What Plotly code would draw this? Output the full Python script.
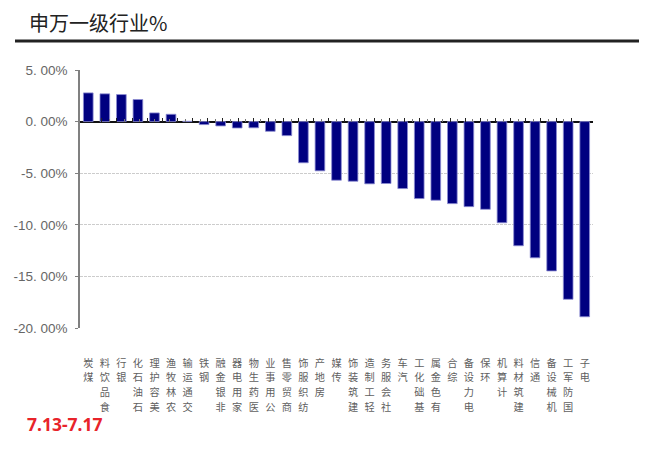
import plotly.graph_objects as go

# 申万一级行业 weekly returns (%), 7.13-7.17
industries = ["煤炭", "食品饮料", "银行", "石油石化", "美容护理", "农林牧渔", "交通运输",
              "钢铁", "非银金融", "家用电器", "医药生物", "公用事业", "商贸零售", "纺织服饰",
              "房地产", "传媒", "建筑装饰", "轻工制造", "社会服务", "汽车", "基础化工",
              "有色金属", "综合", "电力设备", "环保", "计算机", "建筑材料", "通信",
              "机械设备", "国防军工", "电子"]
returns = [2.78, 2.69, 2.62, 2.14, 0.84, 0.71, 0.03,
           -0.29, -0.42, -0.62, -0.60, -0.94, -1.36, -3.99,
           -4.77, -5.68, -5.78, -6.03, -6.00, -6.49, -7.46,
           -7.62, -7.95, -8.24, -8.50, -9.80, -12.03, -13.20,
           -14.47, -17.22, -18.91]
y_ticks = [5, 0, -5, -10, -15, -20]
y_tick_text = ["5. 00%", "0. 00%", "-5. 00%", "-10. 00%", "-15. 00%", "-20. 00%"]

W, H = 648, 449
L, R, T, B = 80, 55, 70, 121

def px_x(x):
    return (x - L) / (W - L - R)

def px_y(y):
    return (H - B - y) / (H - T - B)

# vertical stacked labels, first character at the bottom
stacked = ["<br>".join('<span style="font-size:10.2px">%s</span>' % c for c in reversed(name))
           for name in industries]

fig = go.Figure()
fig.add_trace(go.Bar(
    x=industries, y=returns,
    marker=dict(color="#000080", line=dict(color="rgba(140,140,210,0.8)", width=1)),
    hoverinfo="x+y", showlegend=False,
))
# invisible helpers that carry the tick marks on the zero line
for ax in ["x2", "x3"]:
    fig.add_trace(go.Scatter(
        x=industries, y=returns, xaxis=ax, mode="markers",
        marker=dict(opacity=0), hoverinfo="skip", showlegend=False,
    ))

zero_pos = (0 - y_ticks[-1]) / (y_ticks[0] - y_ticks[-1])

fig.update_layout(
    width=W, height=H,
    margin=dict(l=L, r=R, t=T, b=B),
    paper_bgcolor="white", plot_bgcolor="white",
    bargap=0.415,
    font=dict(family="Noto Sans CJK SC", color="#555"),
    xaxis=dict(
        type="category", categoryarray=industries,
        tickvals=industries, ticktext=stacked,
        tickangle=0, ticks="", showline=False, showgrid=False,
        ticklabelstandoff=26,
        tickfont=dict(size=11.5, color="#606060", family="Noto Sans CJK SC"),
    ),
    xaxis2=dict(
        type="category", categoryarray=industries, overlaying="x",
        anchor="free", position=zero_pos, showticklabels=False,
        showline=False, showgrid=False, ticks="inside", tickson="boundaries",
        ticklen=4, tickcolor="#222", tickwidth=1,
    ),
    xaxis3=dict(
        type="category", categoryarray=industries, overlaying="x",
        anchor="free", position=zero_pos, showticklabels=False,
        showline=False, showgrid=False, ticks="inside", tickson="labels",
        ticklen=3, tickcolor="#777", tickwidth=1,
    ),
    yaxis=dict(
        range=[y_ticks[-1], y_ticks[0]],
        tickvals=y_ticks, ticktext=y_tick_text,
        showline=True, linecolor="#808080", linewidth=1.5,
        ticks="outside", ticklen=3, tickcolor="#808080",
        ticklabelstandoff=5,
        showgrid=True, gridcolor="#cccccc", griddash="3px,1px", gridwidth=1,
        zeroline=True, zerolinecolor="#111", zerolinewidth=1.5,
        tickfont=dict(size=13.5, color="#666", family="Liberation Sans"),
    ),
    shapes=[dict(
        type="line", xref="paper", yref="paper",
        x0=px_x(15), x1=px_x(639), y0=px_y(41), y1=px_y(41),
        line=dict(color="#222", width=3),
    )],
    annotations=[
        dict(text="申万一级行业%", xref="paper", yref="paper",
             x=px_x(27), y=px_y(23), xanchor="left", yanchor="middle",
             showarrow=False, font=dict(size=20, color="#222", family="Noto Sans CJK SC")),
        dict(text="<b>7.13-7.17</b>", xref="paper", yref="paper",
             x=px_x(25), y=px_y(424), xanchor="left", yanchor="middle",
             showarrow=False, font=dict(size=17.5, color="#e8232a", family="Noto Sans")),
    ],
)

# drop the page's default body margin so the figure sits at the window's corner
fig.write_html("out.html", config={"displayModeBar": False},
               post_script="document.body.style.margin='0';")
